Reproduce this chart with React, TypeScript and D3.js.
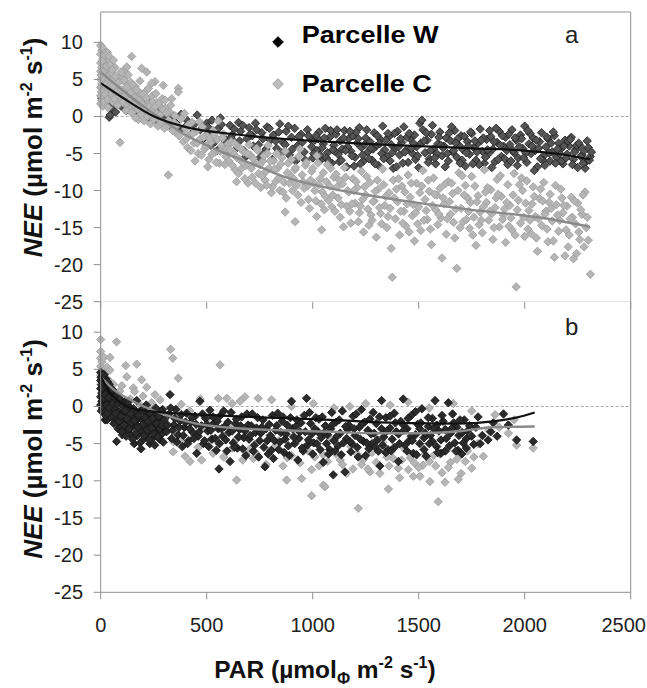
import React from "react";
import * as d3 from "d3";

// ---------- axis ticks ----------
const PAR_TICKS = [0, 500, 1000, 1500, 2000, 2500];
const NEE_TICKS = [10, 5, 0, -5, -10, -15, -20, -25];
const SERIES_NAMES = ["Parcelle W", "Parcelle C"];
const PANEL_LABELS = ["a", "b"];

// ---------- panel a : Parcelle W  (flat list: PAR, NEE, PAR, NEE ...) ----------
const A_W = [
  5,2.5, 8,3.8, 12,1.9, 15,4.6, 20,3.1, 25,2.2, 30,4.0, 35,1.5, 40,-0.1, 45,0.2, 50,2.7, 55,1.1, 60,3.6, 70,0.6,
  80,2.8, 95,1.4, 110,3.2, 120,0.8, 135,2.1, 150,1.2, 160,2.6, 175,0.4, 190,1.6, 205,0.9, 220,2.0, 235,-0.3, 245,1.1, 260,0.2, 275,-0.8, 285,0.9,
  300,-0.4, 310,0.7, 325,-1.2, 340,0.1, 355,-0.9, 370,-2.0, 380,0.3, 395,-1.5, 410,-0.6, 425,-2.4, 440,-1.1, 455,0.2, 470,-1.8, 485,-3.0, 500,-0.9,
  510,-2.2, 525,-0.5, 540,-3.4, 555,-1.6, 565,-0.2, 580,-2.8, 595,-4.1, 610,-1.2, 620,-2.5, 635,-3.6, 650,-0.8, 660,-2.0, 675,-4.6, 690,-3.0, 700,-1.5,
  715,-2.6, 730,-0.9, 745,-3.8, 760,-2.2, 770,-5.0, 785,-1.4, 800,-3.2, 815,-2.5, 830,-4.3, 845,-1.0, 860,-3.5, 875,-2.0, 890,-5.2, 900,-2.8, 915,-1.6,
  930,-3.9, 945,-2.4, 960,-4.8, 975,-1.8, 990,-3.1, 1000,-5.6,
  505,-1.4, 520,-3.9, 535,-2.0, 550,-4.6, 570,-1.1, 585,-3.2, 600,-5.0, 615,-2.9, 630,-1.7, 645,-4.2, 655,-3.3, 670,-1.2, 685,-5.4, 705,-2.4, 720,-4.0,
  735,-1.8, 750,-5.6, 765,-3.0, 780,-4.4, 795,-1.6, 810,-5.8, 825,-3.3, 840,-2.1, 855,-4.9, 870,-3.8, 885,-1.3, 905,-4.4, 920,-6.0, 935,-2.7, 950,-3.5,
  965,-5.9, 980,-2.6, 995,-4.1,
  1010,-3.2, 1020,-4.6, 1030,-2.1, 1040,-5.8, 1050,-3.7, 1060,-1.6, 1070,-4.9, 1080,-2.8, 1090,-6.3, 1100,-3.9, 1110,-2.4, 1120,-5.1, 1130,-3.3, 1140,-4.4,
  1150,-1.9, 1160,-6.8, 1170,-3.0, 1180,-4.7, 1190,-2.6, 1200,-5.5, 1210,-3.6, 1220,-1.5, 1230,-4.2, 1240,-6.0, 1250,-2.9, 1260,-4.8, 1270,-3.4, 1280,-5.9,
  1290,-2.2, 1300,-4.0, 1310,-6.6, 1320,-3.1, 1330,-1.3, 1340,-4.5, 1350,-5.4, 1360,-2.7, 1370,-3.8, 1380,-7.0, 1390,-4.3, 1400,-2.0, 1410,-5.2, 1420,-3.5,
  1430,-1.4, 1440,-4.6, 1450,-6.2, 1460,-3.0, 1470,-5.0, 1480,-2.5, 1490,-4.1, 1500,-6.9, 1510,-3.6, 1520,-1.8, 1530,-4.9, 1540,-3.2, 1550,-5.7, 1560,-2.4,
  1570,-4.4, 1580,-6.4, 1590,-3.7, 1600,-2.1, 1610,-5.3, 1620,-4.0, 1630,-2.9, 1640,-6.0, 1650,-3.3, 1660,-4.8, 1670,-1.9, 1680,-5.5, 1690,-3.9, 1700,-2.6,
  1710,-4.5, 1720,-6.7, 1730,-3.4, 1740,-5.1, 1750,-2.3, 1760,-4.2, 1770,-5.9, 1780,-3.6, 1790,-1.7, 1800,-4.7, 1810,-6.3, 1820,-3.1, 1830,-5.0, 1840,-2.7,
  1850,-4.4, 1860,-6.1, 1870,-3.5, 1880,-2.0, 1890,-5.4, 1900,-4.0, 1910,-2.8, 1920,-6.5, 1930,-3.8, 1940,-1.8, 1950,-4.9, 1960,-3.2, 1970,-5.6, 1980,-2.5,
  1990,-4.3, 2000,-1.3, 2010,-6.2, 2020,-3.7, 2030,-5.0, 2040,-2.9, 2050,-4.6, 2060,-6.8, 2070,-3.4, 2080,-2.2, 2090,-5.3, 2100,-4.1, 2110,-3.0, 2120,-6.0,
  2130,-4.8, 2140,-2.6, 2150,-5.5, 2160,-3.6, 2170,-4.4, 2180,-6.4, 2190,-3.2, 2200,-5.1, 2210,-4.0, 2220,-2.8, 2230,-5.8, 2240,-4.5, 2250,-6.9, 2260,-3.9,
  2270,-5.2, 2280,-4.6, 2290,-6.1, 2300,-4.2, 2310,-5.4,
  1005,-5.0, 1025,-3.0, 1045,-4.2, 1065,-5.6, 1085,-1.9, 1105,-4.7, 1125,-6.1, 1145,-2.9, 1165,-4.1, 1185,-5.3, 1205,-2.1, 1225,-6.4, 1245,-3.8, 1265,-5.7,
  1285,-4.4, 1305,-2.6, 1325,-5.0, 1345,-3.2, 1365,-6.0, 1385,-2.3, 1405,-4.1, 1425,-6.3, 1445,-2.8, 1465,-4.3, 1485,-5.8, 1505,-0.9, 1515,-0.5, 1525,-3.3,
  1545,-6.2, 1565,-1.2, 1585,-5.0, 1605,-3.9, 1625,-6.8, 1645,-2.2, 1665,-4.6, 1685,-3.0, 1705,-5.9, 1725,-4.9, 1745,-2.1, 1765,-3.3, 1785,-6.5, 1805,-2.9,
  1825,-4.5, 1845,-6.9, 1865,-1.6, 1885,-3.9, 1905,-5.7, 1925,-2.4, 1945,-4.6, 1965,-6.6, 1985,-3.0, 2005,-4.9, 2025,-2.3, 2045,-7.3, 2065,-4.3, 2085,-5.9,
  2105,-2.8, 2125,-3.6, 2145,-6.3, 2165,-5.0, 2185,-4.0, 2205,-3.3, 2225,-6.5, 2245,-3.9, 2265,-5.4, 2285,-7.0, 2305,-5.9,
  1015,-2.6, 1035,-5.2, 1055,-2.9, 1075,-6.0, 1095,-4.5, 1115,-1.8, 1135,-5.9, 1155,-4.6, 1175,-2.0, 1195,-6.7, 1215,-3.0, 1235,-5.2, 1255,-1.8, 1275,-4.3,
  1295,-6.4, 1315,-3.7, 1335,-5.7, 1355,-2.3, 1375,-4.9, 1395,-6.8, 1415,-3.0, 1435,-4.8, 1455,-2.3, 1475,-3.6, 1495,-5.3, 1535,-2.2, 1555,-4.6, 1575,-5.6,
  1595,-2.8, 1615,-4.2, 1635,-5.0, 1655,-1.4, 1675,-3.6, 1695,-6.3, 1715,-2.7, 1735,-4.0, 1755,-6.4, 1775,-4.8, 1795,-3.2, 1815,-5.5, 1835,-1.9, 1855,-3.4,
  1875,-5.8, 1895,-2.6, 1915,-4.6, 1935,-6.0, 1955,-2.9, 1975,-4.1, 1995,-5.6, 2015,-1.9, 2035,-4.0, 2055,-3.2, 2075,-5.7, 2095,-6.6, 2115,-4.9, 2135,-2.1,
  2155,-4.4, 2175,-6.0, 2195,-5.6, 2215,-3.1, 2235,-4.8, 2255,-3.6, 2275,-6.3, 2295,-3.3, 2315,-4.8,
];

// ---------- panel a : Parcelle C ----------
const A_C = [
  0,9.6, 0,8.4, 0,7.2, 0,6.1, 0,5.0, 0,3.9, 0,2.8, 0,1.7, 5,8.9, 5,6.6, 5,4.4, 5,2.2, 10,7.8, 10,5.5, 10,3.3, 10,1.4, 15,9.0, 15,6.9, 15,4.8, 15,2.6,
  20,7.4, 20,5.9, 20,3.7, 25,8.1, 25,6.3, 25,4.1, 25,2.0, 30,7.0, 30,5.2, 30,3.0, 35,6.1, 35,4.6, 35,1.2, 40,7.6, 40,5.6, 40,3.5, 45,6.5, 45,2.5, 50,4.9, 50,3.1,
  2,5.6, 3,3.3, 7,7.5, 8,9.3, 12,6.0, 13,2.0, 18,8.3, 18,5.0, 22,3.0, 28,6.8, 28,4.5, 32,8.6, 33,2.3, 38,5.0, 42,3.9, 47,7.0, 48,4.3, 52,5.9, 57,2.0, 58,5.0,
  62,3.5, 67,6.6, 72,4.0, 78,2.3, 82,5.2, 87,3.6, 92,4.9, 97,2.4, 102,5.2, 107,3.0, 112,6.3, 117,1.6, 122,4.4, 127,2.6, 132,3.5, 138,1.0, 142,4.6, 148,2.8,
  153,3.4, 158,0.8, 163,4.0, 168,1.9, 173,2.9, 178,-0.4, 183,1.2, 188,3.1, 198,2.4, 208,0.5, 213,3.4, 223,1.8, 233,0.2, 243,2.8, 253,0.7, 263,1.9, 273,-0.4,
  283,1.3, 293,-1.0, 305,1.1, 315,-1.3, 325,0.6, 345,-0.8, 355,-2.2,
  55,6.3, 60,4.1, 65,2.4, 70,5.4, 75,3.3, 80,1.5, 85,4.6, 90,2.7, 95,6.0, 100,3.6, 105,1.9, 110,4.9, 115,2.9, 120,0.8, 125,3.9, 130,5.6, 135,2.1, 140,3.2,
  145,0.5, 150,4.3, 155,1.6, 160,2.6, 165,-0.2, 170,3.6, 175,1.0, 180,2.2, 185,4.8, 190,0.3, 195,1.7, 200,3.0, 205,-0.6, 210,1.2, 215,2.5, 220,0.0, 225,3.8,
  230,1.4, 235,-1.0, 240,0.7, 245,2.0, 250,-0.4, 255,1.3, 260,3.1, 265,0.4, 270,-1.3, 275,1.8, 280,0.2, 285,-0.8, 290,2.4, 295,0.9, 300,-1.6, 310,0.5,
  320,-0.5, 330,1.5, 340,-1.9, 350,0.1,
  146,8.1, 123,6.7, 193,6.5, 217,6.0, 256,4.7, 295,4.2, 366,3.8, 366,3.3, 303,2.2, 335,2.4, 240,4.5, 91,-3.5, 319,-7.9, 40,8.1, 60,7.6,
  360,-1.2, 370,-2.6, 380,-0.3, 390,-3.4, 400,-1.7, 410,-4.2, 420,-2.5, 430,-0.8, 440,-3.6, 450,-2.0, 460,-5.0, 470,-3.0, 480,-1.4, 490,-4.4, 500,-2.6,
  510,-5.8, 520,-3.5, 530,-1.9, 540,-4.8, 550,-3.1, 560,-6.3, 570,-4.0, 580,-2.4, 590,-5.4, 600,-3.7, 445,-6.0, 505,-6.8, 555,-0.6, 395,0.4, 465,-0.7,
  405,-3.0, 415,-1.1, 425,-4.6, 435,-2.3, 455,-3.6, 475,-5.2, 485,-2.8, 495,-4.0, 515,-3.0, 525,-5.1, 535,-2.5, 545,-6.2, 565,-4.7, 575,-2.9, 585,-6.5,
  595,-4.4, 605,-6.0, 615,-3.4, 625,-5.0, 635,-7.2, 645,-4.0, 655,-5.8, 665,-7.0, 675,-4.8, 685,-6.6, 695,-9.0, 705,-5.2, 715,-8.2, 725,-6.3, 735,-4.3,
  745,-7.7, 755,-9.6, 765,-6.0, 775,-8.6, 785,-5.0, 795,-7.0, 805,-10.3, 815,-6.0, 825,-8.8, 835,-7.0, 845,-10.0, 855,-5.6, 865,-8.9, 875,-11.0, 885,-6.3,
  895,-8.0, 905,-10.0, 915,-7.2, 925,-9.3, 935,-5.4, 945,-11.6, 955,-8.8, 965,-6.6, 975,-9.4, 985,-12.4, 995,-7.4, 1005,-9.0, 1015,-11.4, 1025,-6.3,
  1035,-8.4, 1045,-10.2, 1055,-12.6, 1065,-8.8, 1075,-11.3, 1085,-7.0, 1095,-10.6,
  610,-4.5, 620,-6.6, 630,-3.6, 640,-5.5, 650,-7.7, 660,-4.3, 670,-6.2, 680,-8.4, 690,-5.0, 700,-3.8, 710,-7.0, 720,-5.7, 730,-9.0, 740,-4.6, 750,-6.5,
  760,-8.0, 770,-5.3, 780,-7.4, 790,-3.9, 800,-6.0, 810,-9.5, 820,-7.1, 830,-5.0, 840,-8.3, 850,-6.4, 860,-10.2, 870,-4.7, 880,-7.6, 890,-9.0, 900,-5.8,
  910,-8.4, 920,-6.9, 930,-10.6, 940,-4.4, 950,-7.9, 960,-9.7, 970,-6.2, 980,-11.2, 990,-8.6, 1000,-7.0, 1010,-10.0, 1020,-5.3, 1030,-9.2, 1040,-11.8,
  1050,-7.6, 1060,-10.8, 1070,-6.5, 1080,-9.4, 1090,-12.2, 1100,-8.2,
  870,-12.9, 917,-14.2, 1019,-13.5, 1042,-15.3, 783,-9.3, 641,-8.8,
  1110,-7.8, 1120,-11.0, 1130,-13.6, 1140,-9.1, 1150,-6.9, 1160,-12.1, 1170,-10.2, 1180,-14.4, 1190,-8.4, 1200,-11.7, 1210,-9.6, 1220,-13.0, 1230,-7.4,
  1240,-15.6, 1250,-10.6, 1260,-12.5, 1270,-8.9, 1280,-14.0, 1290,-11.4, 1300,-16.3, 1310,-9.8, 1320,-13.1, 1330,-7.1, 1340,-12.0, 1350,-15.0, 1360,-10.3,
  1370,-17.8, 1375,-21.7, 1380,-8.6, 1390,-13.8, 1400,-11.5, 1410,-16.0, 1420,-9.4, 1430,-12.8, 1440,-14.8, 1450,-7.9, 1460,-10.9, 1470,-13.4, 1480,-16.8,
  1490,-9.0, 1500,-12.2, 1510,-15.4, 1520,-7.3, 1530,-11.2, 1540,-13.9, 1550,-10.1, 1560,-17.3, 1570,-8.3, 1580,-12.6, 1590,-14.6, 1600,-9.7, 1610,-19.1,
  1620,-11.8, 1630,-15.9, 1640,-8.8, 1650,-13.2, 1660,-10.4, 1670,-16.4, 1680,-20.5, 1690,-7.6, 1700,-12.4, 1710,-14.2, 1720,-9.3, 1730,-11.0, 1740,-15.1,
  1750,-8.1, 1760,-13.6, 1770,-17.4, 1780,-10.7, 1790,-12.9, 1800,-15.7, 1810,-7.2, 1820,-11.6, 1830,-14.0, 1840,-9.9, 1850,-16.6, 1860,-12.3, 1870,-8.5,
  1880,-14.9, 1890,-10.8, 1900,-13.3, 1910,-17.0, 1920,-9.2, 1930,-12.0, 1940,-15.3, 1950,-7.7, 1960,-23.0, 1970,-11.3, 1980,-14.4, 1990,-10.0, 2000,-16.2,
  2010,-8.7, 2020,-12.7, 2030,-15.8, 2040,-9.5, 2050,-13.5, 2060,-18.2, 2070,-11.1, 2080,-14.7, 2090,-8.9, 2100,-12.8, 2110,-16.9, 2120,-10.5, 2130,-14.1,
  2140,-19.0, 2150,-11.9, 2160,-15.5, 2170,-9.8, 2180,-13.0, 2190,-18.8, 2200,-12.1, 2210,-16.0, 2220,-10.9, 2230,-19.2, 2240,-14.5, 2250,-11.7, 2260,-16.6,
  2270,-13.2, 2280,-17.6, 2290,-15.0, 2300,-16.7, 2310,-21.3,
  1115,-9.5, 1135,-11.9, 1155,-8.2, 1175,-12.8, 1195,-10.0, 1215,-14.2, 1235,-11.2, 1255,-8.1, 1275,-13.3, 1295,-10.1, 1315,-12.3, 1335,-9.2, 1355,-13.5,
  1385,-11.0, 1405,-8.4, 1425,-14.4, 1445,-11.8, 1465,-9.0, 1485,-13.0, 1505,-10.3, 1525,-14.0, 1545,-8.6, 1565,-12.0, 1585,-10.6, 1605,-13.7, 1625,-9.1,
  1645,-11.5, 1665,-14.3, 1685,-10.0, 1705,-8.0, 1725,-13.9, 1745,-11.6, 1765,-9.4, 1785,-14.6, 1805,-12.2, 1825,-9.6, 1845,-13.1, 1865,-11.0, 1885,-8.0,
  1905,-12.5, 1925,-14.8, 1945,-10.6, 1965,-12.6, 1985,-8.3, 2005,-11.7, 2025,-14.0, 2045,-10.8, 2065,-13.8, 2085,-11.4, 2105,-15.2, 2125,-12.4, 2145,-9.3,
  2165,-14.0, 2185,-12.0, 2205,-17.6, 2225,-13.6, 2245,-18.5, 2265,-12.6, 2285,-10.2,
  1105,-12.8, 1125,-8.6, 1145,-14.9, 1165,-10.0, 1185,-11.8, 1205,-8.8, 1225,-12.1, 1245,-9.5, 1265,-14.7, 1285,-11.5, 1305,-8.6, 1325,-14.5, 1345,-10.8,
  1365,-12.4, 1395,-9.8, 1415,-12.8, 1435,-10.2, 1455,-15.6, 1475,-11.9, 1495,-14.5, 1515,-9.4, 1535,-12.7, 1555,-15.2, 1575,-10.5, 1595,-13.2, 1615,-11.0,
  1635,-13.8, 1655,-9.0, 1675,-12.5, 1695,-15.0, 1715,-10.6, 1735,-12.8, 1755,-16.0, 1775,-11.5, 1795,-14.0, 1815,-10.2, 1835,-12.8, 1855,-15.0, 1875,-10.5,
  1895,-13.9, 1915,-11.6, 1935,-13.7, 1955,-16.0, 1975,-9.2, 1995,-13.6, 2015,-15.2, 2035,-11.8, 2055,-16.4, 2075,-9.8, 2095,-13.2, 2115,-11.6, 2135,-16.8,
  2155,-13.3, 2175,-11.0, 2195,-15.3, 2215,-13.8, 2235,-11.4, 2255,-15.6, 2275,-10.6, 2295,-13.6,
];

// ---------- panel b : Parcelle W ----------
const B_W = [
  0,4.6, 0,3.5, 0,2.4, 0,1.3, 0,0.2, 5,4.0, 5,2.9, 5,1.8, 5,0.7, 10,3.3, 10,2.1, 10,-0.3, 15,4.3, 15,1.5, 20,2.6, 20,0.4, 20,-1.8, 25,3.7, 25,1.0, 30,-1.8,
  30,2.0, 35,0.5, 35,-1.6, 40,3.0, 40,-1.1, 45,1.6, 50,-0.6, 55,2.3, 60,0.8,
  2,3.9, 3,-0.6, 7,2.5, 8,0.0, 12,4.2, 13,1.1, 17,-0.8, 18,3.0, 22,1.6, 23,-1.2, 27,2.8, 28,0.2, 32,-0.9, 33,3.3, 38,1.2, 42,-0.2, 48,2.1, 52,-1.5, 58,0.4,
  62,-2.3, 68,-0.4, 72,1.6, 78,-1.6, 82,-3.0, 88,-0.7, 92,-2.6, 98,-1.0, 102,-3.8, 108,-1.9, 112,0.6, 118,-2.8, 122,-0.9, 128,-3.4, 132,-2.0, 138,-0.1,
  142,-3.8, 148,-1.3, 152,-2.7, 158,-5.0, 162,-0.9, 168,-2.4, 172,-3.9, 178,-1.6, 182,-2.9, 188,-0.6, 192,-3.3, 198,-1.9, 202,-4.4, 208,-2.8, 212,-0.8,
  218,-3.7, 222,-1.2, 228,-2.6, 232,-5.0, 238,-3.3, 242,-1.2, 248,-4.2, 252,-2.2, 258,-0.8, 262,-3.5, 268,-1.8, 272,-2.9, 278,-4.4, 282,-1.6, 288,-3.7,
  292,-0.4, 298,-2.9,
  65,1.2, 70,-0.9, 75,-4.7, 80,0.3, 85,-2.0, 90,1.0, 95,-1.3, 100,-3.4, 105,0.1, 110,-2.5, 115,-0.6, 120,-4.0, 125,-1.7, 130,0.6, 135,-3.0, 140,-1.0,
  145,-2.2, 150,-4.4, 155,-0.3, 160,-1.9, 165,-3.6, 170,0.8, 175,-2.8, 180,-1.2, 185,-4.9, 190,-5.7, 195,-0.5, 200,-2.4, 205,-3.9, 210,-1.5, 215,0.2,
  220,-3.2, 225,-2.0, 230,-4.5, 235,-0.9, 240,-2.9, 245,-1.6, 250,-3.7, 255,-5.2, 260,-0.2, 265,-2.3, 270,-4.1, 275,-1.3, 280,-3.0, 285,-0.7, 290,-2.6,
  295,-4.8, 300,-1.8,
  310,-3.4, 320,-1.1, 327,1.6, 335,-4.3, 345,-2.5, 355,-0.4, 365,-3.8, 375,-1.9, 385,-5.4, 395,-2.8, 405,-0.9, 415,-4.6, 425,-2.1, 435,-3.5, 445,-1.3,
  453,-6.3, 460,-4.0, 468,0.7, 475,-2.6, 485,-5.0, 495,-1.6, 505,-3.3, 515,-0.5, 525,-4.4, 535,-2.2, 545,-5.9, 555,-3.0, 558,-8.4, 565,-1.2, 575,-4.0,
  585,-2.7, 595,-6.0, 605,-3.5, 610,-7.4, 615,-0.8, 625,-4.9, 635,-2.3, 645,-5.6, 655,-3.1, 665,-1.4, 675,-4.2, 685,-6.6, 695,-2.5,
  315,-2.5, 330,-0.2, 340,-3.2, 350,-1.6, 360,-4.8, 370,-2.8, 380,-1.1, 390,-3.9, 400,-2.1, 410,-5.0, 420,-3.0, 430,-1.5, 440,-4.3, 450,-2.4, 465,-3.4,
  480,-1.0, 490,-4.6, 500,-2.4, 510,-5.4, 520,-3.2, 530,-1.4, 540,-4.3, 550,-2.0, 560,-5.0, 570,-3.0, 580,-0.6, 590,-4.5, 600,-2.1, 620,-3.3, 630,-5.5,
  640,-1.7, 650,-4.1, 660,-2.6, 670,-5.7, 680,-3.3, 690,-1.0, 700,-4.4, 710,-2.6, 720,-6.0, 730,-3.5, 740,-1.5, 750,-4.6, 760,-2.8, 770,-5.5, 780,-3.0,
  790,-6.4, 800,-3.9, 810,-1.2, 820,-4.6, 830,-2.6, 840,-5.8, 850,-3.5, 860,-1.4, 870,-4.4, 880,-2.5, 890,-6.6, 905,-3.0, 915,-5.0, 925,-1.8, 935,-4.3,
  945,-2.2, 955,-6.0, 965,-3.4, 975,-5.2, 985,-0.8, 995,-3.7, 1005,-4.9, 1015,-1.5, 1025,-3.4, 1035,-5.8,
  705,-3.9, 715,-1.0, 725,-5.2, 735,-2.9, 745,-6.8, 755,-3.6, 765,-1.8, 775,-8.1, 785,-4.6, 795,-2.4, 805,-5.9, 815,-7.0, 825,-3.2, 835,-0.9, 845,-4.8,
  855,-2.0, 865,-6.2, 875,-3.7, 885,-5.3, 895,-1.5, 900,0.7, 910,-4.1, 920,-2.7, 930,-7.2, 940,-3.4, 950,-5.6, 960,-1.2, 971,1.1, 980,-4.5, 990,-2.3,
  1000,-6.4, 1010,-3.0, 1020,-5.0, 1030,-1.7, 1040,-4.2, 1050,-7.5, 1060,-2.6, 1070,-3.8, 1080,-5.8, 1090,-0.8, 1097,-9.2, 1100,-4.6,
  1110,-2.1, 1120,-5.3, 1130,-3.6, 1140,-0.6, 1152,-8.8, 1160,-4.3, 1170,-2.5, 1180,-6.1, 1190,-1.3, 1200,-3.9, 1210,-5.5, 1220,-2.8, 1230,-0.4, 1240,-4.7,
  1250,-6.6, 1260,-3.2, 1270,-1.7, 1280,-5.0, 1290,-3.6, 1300,-2.3, 1310,-6.0, 1317,-8.0, 1325,0.8, 1335,-4.1, 1345,-1.5, 1355,-5.8, 1365,-2.9, 1375,-4.4,
  1385,-0.9, 1395,-3.4, 1404,-7.4, 1415,-2.0, 1427,1.0, 1435,-5.2, 1445,-3.0, 1455,-4.6, 1465,-1.2, 1475,-6.3, 1485,-3.8, 1495,-2.4, 1505,-5.0, 1515,-0.3,
  1525,-4.2, 1535,-6.7, 1545,-2.7, 1555,-3.9, 1565,-1.6, 1577,0.8, 1585,-5.4, 1595,-3.3, 1605,-4.5, 1615,-2.0, 1625,-6.0, 1640,0.5, 1650,-3.6, 1660,-1.0,
  1670,-4.9, 1680,-2.8, 1690,-3.9, 1703,-6.4, 1715,-1.8, 1725,-4.3, 1740,-2.6, 1760,-5.1, 1780,-1.4, 1800,-3.9, 1827,-4.5, 1840,-3.4, 1852,-2.2, 1870,-4.0,
  1900,-1.0, 1923,-2.5, 1962,-4.5, 2040,-4.7,
  1045,-1.4, 1065,-5.0, 1085,-3.0, 1105,-6.0, 1125,-1.8, 1145,-4.9, 1165,-3.1, 1185,-5.0, 1205,-1.0, 1225,-4.4, 1245,-2.1, 1265,-5.7, 1285,-0.8, 1305,-4.5,
  1325,-3.0, 1345,-6.2, 1365,-1.3, 1385,-5.5, 1405,-3.7, 1425,-2.4, 1445,-6.0, 1465,-4.0, 1485,-0.7, 1505,-3.0, 1525,-5.8, 1545,-1.5, 1565,-4.7, 1585,-2.5,
  1605,-6.3, 1625,-3.1, 1645,-5.3, 1665,-2.2, 1685,-5.9, 1705,-3.5, 1725,-5.6,
  1055,-3.5, 1075,-6.4, 1095,-2.4, 1115,-4.0, 1135,-6.5, 1155,-2.7, 1175,-4.7, 1195,-3.0, 1215,-6.8, 1235,-2.3, 1255,-4.9, 1275,-3.7, 1295,-5.4, 1315,-1.4,
  1330,-5.2, 1350,-3.3, 1370,-6.0, 1390,-2.2, 1410,-5.0, 1430,-3.2, 1450,-1.6, 1470,-4.6, 1490,-6.5, 1510,-2.2, 1530,-3.6, 1550,-5.0, 1570,-3.0, 1590,-6.2,
  1610,-1.2, 1630,-4.3, 1655,-3.0, 1675,-6.0, 1695,-1.8, 1710,-4.9, 1730,-3.3, 1750,-4.0, 1770,-2.8, 1790,-5.0,
];

// ---------- panel b : Parcelle C ----------
const B_C = [
  0,9.0, 0,7.4, 0,6.5, 0,5.4, 0,4.2, 0,3.0, 5,6.0, 5,4.7, 10,5.2, 10,3.4, 15,6.6, 20,4.4, 25,2.6, 30,5.3, 35,3.6, 44,6.6, 44,4.9, 75,8.7, 118,5.5,
  123,4.0, 170,5.7, 154,2.5, 217,2.6, 193,3.6, 330,7.7, 340,6.5, 366,3.8, 563,5.6, 256,1.6,
  60,3.0, 90,2.1, 140,1.0, 180,0.4, 230,-0.2, 280,0.9, 300,-1.0, 380,0.3, 420,-0.6, 470,1.0, 510,-1.5,
  50,1.8, 70,1.2, 100,2.8, 130,0.8, 160,2.0, 200,1.4, 240,0.5,
  555,1.1, 595,1.1, 657,0.7, 680,1.3, 743,1.1, 806,0.9, 1003,0.4, 1175,0.0, 1100,-0.2, 1365,0.2, 1663,0.4, 1860,-1.1,
  620,0.4, 900,0.0, 1250,0.4, 1450,0.6, 1550,-0.2, 1750,-0.6, 1950,-1.8,
  342,-4.7, 342,-6.1, 398,-6.7, 421,-7.4, 476,-7.2, 641,-9.9, 530,-6.3, 720,-7.0, 877,-9.9, 948,-9.7, 995,-12.0, 995,-8.5, 1050,-10.6, 1050,-6.5,
  1923,-3.6, 1962,-5.2, 2040,-5.6, 1805,-6.7, 1687,-9.8, 1624,-10.2, 1592,-12.8, 1553,-10.1, 1506,-9.4, 1357,-11.1, 1215,-13.7, 1058,-10.8, 1475,-9.4,
  1270,-8.8, 1317,-9.0, 1404,-8.3, 1451,-8.5,
  250,-2.5, 320,-3.2, 360,-2.0, 440,-4.0, 500,-3.0, 560,-5.0, 600,-2.6, 640,-4.4, 700,-5.8, 760,-3.4, 800,-6.0, 840,-4.6, 880,-6.9, 920,-3.8, 960,-5.5,
  1010,-6.8, 1080,-4.2, 1130,-7.2, 1180,-5.4, 1230,-7.8, 1280,-6.2, 1330,-4.8, 1380,-7.0, 1430,-5.6, 1480,-7.6, 1530,-6.4, 1580,-8.0, 1630,-5.9,
  1680,-7.1, 1730,-6.0, 1780,-5.0, 1830,-3.2, 1880,-2.8,
  1140,-7.8, 1190,-8.4, 1240,-7.1, 1300,-7.5, 1350,-6.8, 1420,-7.2, 1520,-7.9, 1570,-6.6, 1610,-8.9, 1650,-7.5, 1700,-6.2, 1750,-8.3,
  300,-3.0, 380,-4.6, 460,-5.5, 520,-4.4, 580,-6.8, 620,-5.6, 670,-7.2, 730,-6.2, 780,-7.8, 820,-5.4, 860,-8.0, 900,-6.6, 940,-7.6, 980,-6.0, 1030,-8.0,
  1070,-7.4, 1110,-6.4, 1160,-9.0, 1210,-6.4, 1260,-8.4, 1310,-6.0, 1360,-8.0, 1410,-9.6, 1460,-6.9, 1500,-8.2, 1550,-7.4, 1600,-6.4, 1640,-8.2, 1720,-7.4,
  1760,-6.8, 1700,-9.0,
];

// ---------- fitted curves (PAR, NEE) ----------
const FIT_A_W = [0,4.5, 100,2.6, 252,0.0, 412,-1.5, 600,-2.3, 800,-2.9, 1000,-3.3, 1250,-3.7, 1500,-4.0, 1750,-4.3, 2000,-4.6, 2170,-5.1, 2310,-5.8];
const FIT_A_C = [0,6.0, 100,3.6, 200,1.4, 300,-0.6, 388,-2.3, 500,-3.9, 624,-5.4, 750,-6.8, 860,-8.1, 1082,-9.7, 1300,-10.8, 1506,-11.7, 1750,-12.6, 1978,-13.3, 2150,-14.0, 2308,-14.9];
const FIT_B_W = [0,4.1, 40,2.0, 90,0.6, 186,-0.5, 470,-1.1, 800,-1.5, 1082,-1.8, 1400,-2.2, 1680,-2.3, 1850,-2.0, 1960,-1.5, 2047,-0.8];
const FIT_B_C = [0,4.0, 60,2.3, 139,0.9, 280,-0.9, 450,-2.3, 624,-2.9, 850,-3.2, 1082,-3.4, 1300,-3.6, 1506,-3.6, 1700,-3.3, 1850,-2.8, 2047,-2.7];

const pairs = (flat: number[]) => {
  const out: [number, number][] = [];
  for (let i = 0; i < flat.length; i += 2) out.push([flat[i], flat[i + 1]]);
  return out;
};

const W = 647, H = 688;
const XL = 100.7, XR = 630.7;
const PANELS = [
  { top: 12, bottom: 301.7, label: PANEL_LABELS[0] },
  { top: 301.7, bottom: 592.3, label: PANEL_LABELS[1] },
];
const FONT = "'Liberation Sans', Arial, Helvetica, sans-serif";
const AXIS = "#8f8f8f";
const R = 4.2;

const diamond = (r: number) => `M0,${-r}L${r},0L0,${r}L${-r},0Z`;

function Points({ data, x, y, fill, stroke, r }: any) {
  const d = diamond(r);
  return (
    <g>
      {pairs(data).map(([p, n], i) => (
        <path key={i} d={d} transform={`translate(${x(p).toFixed(2)},${y(n).toFixed(2)})`} fill={fill} stroke={stroke} strokeWidth={0.8} />
      ))}
    </g>
  );
}

export default function App() {
  const x = d3.scaleLinear().domain([0, 2500]).range([XL, XR]);
  const ys = PANELS.map((p) => d3.scaleLinear().domain([-25, 14.1]).range([p.bottom, p.top]));
  const line = (yS: any) =>
    d3.line<[number, number]>().x((d) => x(d[0])).y((d) => yS(d[1])).curve(d3.curveMonotoneX);

  const titleCenters = [147.5, 449];

  return (
    <svg width={W} height={H} style={{ position: "absolute", left: 0, top: 0, background: "#fff" }} fontFamily={FONT}>
      <rect width={W} height={H} fill="#fff" />
      {PANELS.map((p, pi) => {
        const y = ys[pi];
        return (
          <g key={pi}>
            <line x1={XL} x2={XR} y1={y(0)} y2={y(0)} stroke="#a8a8a8" strokeWidth={1} strokeDasharray="3,2" />
            {pi === 0 ? (
              <>
                <Points data={A_W} x={x} y={y} fill="#555" stroke="#1c1c1c" r={R} />
                <Points data={A_C} x={x} y={y} fill="#b5b5b5" stroke="#9c9c9c" r={R} />
              </>
            ) : (
              <>
                <Points data={B_C} x={x} y={y} fill="#b5b5b5" stroke="#9c9c9c" r={R} />
                <Points data={B_W} x={x} y={y} fill="#2b2b2b" stroke="#111" r={R} />
              </>
            )}
            <path d={line(y)(pairs(pi === 0 ? FIT_A_C : FIT_B_C)) || ""} fill="none" stroke="#8a8a8a" strokeWidth={2.4} />
            <path d={line(y)(pairs(pi === 0 ? FIT_A_W : FIT_B_W)) || ""} fill="none" stroke="#111" strokeWidth={2.2} />
            {NEE_TICKS.map((t) => (
              <g key={t}>
                <line x1={XL - 7} x2={XL} y1={y(t)} y2={y(t)} stroke={AXIS} strokeWidth={1} />
                <text x={83} y={y(t) + 7} textAnchor="end" fontSize={20} fill="#222">{t}</text>
              </g>
            ))}
            {PAR_TICKS.map((t) => (
              <line key={t} x1={x(t)} x2={x(t)} y1={p.bottom} y2={p.bottom + 7} stroke={AXIS} strokeWidth={1} />
            ))}
            <line x1={XL} x2={XR} y1={p.bottom} y2={p.bottom} stroke={pi === 0 ? "#e2e2e2" : AXIS} strokeWidth={1} />
            <text x={565} y={pi === 0 ? 43 : 335} fontSize={24} fill="#222">{p.label}</text>
            <text transform={`translate(42,${titleCenters[pi]}) rotate(-90)`} textAnchor="middle" fontSize={26} fontWeight="bold" fill="#111">
              <tspan fontStyle="italic">NEE</tspan>
              <tspan> (µmol m</tspan>
              <tspan fontSize={16} dy={-10}>-2</tspan>
              <tspan dy={10}> s</tspan>
              <tspan fontSize={16} dy={-10}>-1</tspan>
              <tspan dy={10}>)</tspan>
            </text>
          </g>
        );
      })}
      <line x1={XL} x2={XL} y1={12} y2={592.3} stroke={AXIS} strokeWidth={1} />
      <line x1={XL} x2={XR} y1={12} y2={12} stroke={AXIS} strokeWidth={1} />
      <line x1={XR} x2={XR} y1={12} y2={592.3} stroke={AXIS} strokeWidth={1} />
      {PAR_TICKS.map((t, i) => (
        <text key={t} x={i === PAR_TICKS.length - 1 ? W - 1 : x(t)} y={632}
          textAnchor={i === PAR_TICKS.length - 1 ? "end" : "middle"} fontSize={20} fill="#222">{t}</text>
      ))}
      <text x={325} y={677.7} textAnchor="middle" fontSize={24.5} fontWeight="bold" fill="#111">
        <tspan>PAR (µmol</tspan>
        <tspan fontSize={16} dy={6}>Φ</tspan>
        <tspan dy={-6}> m</tspan>
        <tspan fontSize={16} dy={-10}>-2</tspan>
        <tspan dy={10}> s</tspan>
        <tspan fontSize={16} dy={-10}>-1</tspan>
        <tspan dy={10}>)</tspan>
      </text>
      <path d={diamond(5.3)} transform="translate(278,42)" fill="#000" stroke="#000" />
      <text x={301.7} y={43} fontSize={24} fontWeight="bold" fill="#000" textLength={137} lengthAdjust="spacingAndGlyphs">{SERIES_NAMES[0]}</text>
      <path d={diamond(5.3)} transform="translate(278,84)" fill="#bdbdbd" stroke="#9c9c9c" />
      <text x={301.7} y={91.5} fontSize={24} fontWeight="bold" fill="#000" textLength={130} lengthAdjust="spacingAndGlyphs">{SERIES_NAMES[1]}</text>
    </svg>
  );
}
